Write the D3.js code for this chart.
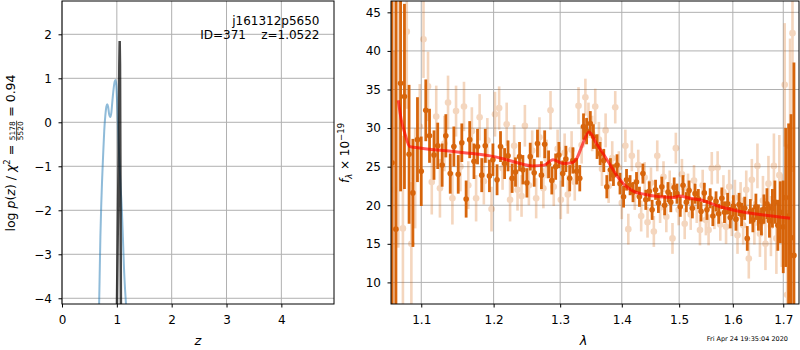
<!DOCTYPE html>
<html>
<head>
<meta charset="utf-8">
<script src="https://cdn.jsdelivr.net/npm/d3@7"></script>
<style>
body { margin: 0; background: #fff; }
text { font-family: "DejaVu Sans", sans-serif; }
</style>
</head>
<body>
<div id="chart"></div>
<script>
// left panel: redshift probability
var zTicks = [0, 1, 2, 3, 4]
var logpTicks = [-4, -3, -2, -1, 0, 1, 2]
var pzZ = [0.670, 0.685, 0.700, 0.715, 0.730, 0.750, 0.770, 0.790, 0.810, 0.825, 0.840, 0.860, 0.880, 0.900, 0.920, 0.940, 0.960, 0.975, 0.990, 1.010, 1.030, 1.050, 1.070, 1.090, 1.110, 1.130, 1.150, 1.175]
var pzLog = [-4.6, -3.6, -2.6, -1.9, -1.35, -0.75, -0.2, 0.15, 0.36, 0.41, 0.36, 0.18, 0.12, 0.22, 0.5, 0.75, 0.92, 0.96, 0.85, 0.3, -0.4, -1.0, -1.5, -1.95, -2.6, -3.3, -3.8, -4.3]
var spikeZ = [1.000, 1.030, 1.045, 1.052, 1.058, 1.065, 1.075]
var spikeLog = [-4.4, -1.0, 1.3, 1.85, 1.3, -1.0, -4.4]

// right panel: spectrum
var lamTicks = [1.1, 1.2, 1.3, 1.4, 1.5, 1.6, 1.7]
var fluxTicks = [10, 15, 20, 25, 30, 35, 40, 45]

var darkWave = [1.062,1.067,1.073,1.078,1.084,1.089,1.095,1.100,1.106,1.111,
  1.117,1.122,1.128,1.133,1.139,1.144,1.150,1.155,1.161,1.166,
  1.172,1.177,1.183,1.188,1.194,1.199,1.205,1.210,1.216,1.221,
  1.227,1.232,1.238,1.243,1.249,1.254,1.260,1.265,1.271,1.276,
  1.282,1.287,1.293,1.298,1.304,1.309,1.315,1.320,1.326,1.331,
  1.337,1.342,1.348,1.353,1.359,1.364,1.370,1.375,1.381,1.386,
  1.392,1.397,1.403,1.408,1.414,1.419,1.425,1.430,1.436,1.441,
  1.447,1.452,1.458,1.463,1.469,1.474,1.480,1.485,1.491,1.496,
  1.502,1.507,1.513,1.518,1.524,1.529,1.535,1.540,1.546,1.551,
  1.557,1.562,1.568,1.573,1.579,1.584,1.590,1.595,1.601,1.606,
  1.612,1.617,1.623,1.628,1.634,1.639,1.645,1.650,1.656,1.661,
  1.667,1.672,1.678,1.683,1.689,1.694,1.700,1.705,1.711,1.716,
  1.722]
var darkFlux = [25.5,16.9,35.8,34.1,26.6,21.6,28.5,24.4,32.3,29.0,
  26.5,27.7,25.2,29.0,24.1,27.6,24.0,28.1,20.8,28.5,
  25.7,27.6,23.9,27.7,23.8,25.9,23.3,27.6,25.4,26.4,
  23.5,24.3,26.3,24.6,22.9,26.3,24.2,28.0,23.9,27.9,
  25.3,23.2,25.0,26.5,24.1,26.0,23.5,25.8,24.4,23.5,
  30.2,29.6,30.6,28.9,27.6,26.7,25.8,22.4,24.6,23.9,
  25.2,22.8,21.1,23.3,22.6,21.7,23.0,21.1,24.1,20.7,
  21.8,19.4,22.0,20.3,22.4,20.0,21.7,20.4,22.3,21.5,
  19.8,22.6,20.4,21.9,19.6,21.5,20.8,19.2,21.6,19.4,
  20.9,18.6,20.5,18.9,20.9,19.1,20.2,18.4,19.9,18.2,
  20.1,18.8,19.6,15.7,19.2,18.1,19.8,18.4,17.9,19.5,
  20.2,18.0,19.6,20.4,17.4,19.1,17.2,21.0,18.6,15.8,
  13.5]
var darkErr = [22,30,14,12,9,7,5.5,4.5,4,3.5,
  3.2,3,2.8,2.8,2.6,2.6,2.5,2.5,2.4,2.4,
  2.3,2.3,2.2,2.2,2.1,2.1,2.0,2.0,2.0,2.0,
  1.9,1.9,1.9,1.9,1.9,1.8,1.8,1.8,1.8,1.8,
  1.8,1.8,1.7,1.7,1.7,1.7,1.7,1.7,1.7,1.7,
  1.7,1.7,1.6,1.6,1.6,1.5,1.5,1.5,1.5,1.4,
  1.4,1.4,1.4,1.4,1.3,1.3,1.3,1.3,1.3,1.3,
  1.3,1.3,1.3,1.3,1.3,1.3,1.3,1.3,1.3,1.3,
  1.3,1.3,1.3,1.3,1.3,1.3,1.3,1.3,1.3,1.3,
  1.3,1.3,1.3,1.3,1.4,1.4,1.4,1.4,1.4,1.5,
  1.5,1.5,1.5,1.6,1.6,1.6,1.7,1.7,1.8,1.9,
  2.0,2.2,2.5,2.8,3.3,4.0,6.0,9,12,16,
  25]

var lightWave = [1.065,1.070,1.076,1.081,1.087,1.092,1.098,1.103,1.109,1.114,
  1.120,1.125,1.131,1.136,1.142,1.147,1.153,1.158,1.164,1.169,
  1.175,1.180,1.186,1.191,1.197,1.202,1.208,1.213,1.219,1.224,
  1.230,1.235,1.241,1.246,1.252,1.257,1.263,1.268,1.274,1.279,
  1.285,1.290,1.296,1.301,1.307,1.312,1.318,1.323,1.329,1.334,
  1.340,1.345,1.351,1.356,1.362,1.367,1.373,1.378,1.384,1.389,
  1.395,1.400,1.406,1.411,1.417,1.422,1.428,1.433,1.439,1.444,
  1.450,1.455,1.461,1.466,1.472,1.477,1.483,1.488,1.494,1.499,
  1.505,1.510,1.516,1.521,1.527,1.532,1.538,1.543,1.549,1.554,
  1.560,1.565,1.571,1.576,1.582,1.587,1.593,1.598,1.604,1.609,
  1.615,1.620,1.626,1.631,1.637,1.642,1.648,1.653,1.659,1.664,
  1.670,1.675,1.681,1.686,1.692,1.697,1.703,1.708,1.714,1.719]
var lightFlux = [22.0,30.5,17.0,42.5,15.0,23.5,30.2,41.5,35.4,23.0,
  31.5,22.2,28.0,33.3,20.9,32.2,25.0,32.8,22.6,29.6,
  20.9,31.4,23.1,28.4,19.5,31.8,32.6,24.8,30.5,20.7,
  27.7,22.0,21.2,30.3,22.6,27.1,20.9,28.8,22.2,26.0,
  32.3,22.4,27.3,20.7,26.8,21.4,27.2,23.0,32.9,27.8,
  34.0,31.0,29.3,32.8,28.5,24.7,29.7,22.5,26.1,32.7,
  24.9,20.3,27.7,16.9,26.4,21.4,25.2,18.6,23.6,17.8,
  22.9,16.6,26.4,19.7,23.7,18.5,22.5,15.7,27.4,19.4,
  24.0,17.6,22.1,18.8,23.2,19.7,16.8,22.6,18.1,16.8,
  24.8,19.0,24.9,17.5,21.7,17.2,22.4,18.3,21.0,16.1,
  20.6,17.4,22.0,13.1,23.3,17.7,25.1,16.3,20.6,15.0,
  22.8,17.3,25.1,15.7,23.9,18.0,35.6,8.4,27.6,42.3]
var lightErr = [18,16,12,10,8,6.5,5.5,5,4.5,4.2,
  4,3.8,3.6,3.5,3.4,3.3,3.2,3.2,3.1,3.1,
  3,3,3,2.9,2.9,2.9,2.8,2.8,2.8,2.8,
  2.7,2.7,2.7,2.7,2.6,2.6,2.6,2.6,2.6,2.5,
  2.5,2.5,2.5,2.5,2.5,2.5,2.4,2.4,2.4,2.4,
  2.4,2.3,2.3,2.3,2.3,2.2,2.2,2.2,2.2,2.1,
  2.1,2.1,2.1,2.0,2.0,2.0,2.0,2.0,2.0,2.0,
  2.0,2.0,2.0,2.0,2.0,2.0,2.0,2.0,2.0,2.0,
  2.0,2.0,2.0,2.0,2.0,2.0,2.0,2.0,2.0,2.0,
  2.1,2.1,2.1,2.1,2.2,2.2,2.2,2.3,2.3,2.4,
  2.4,2.5,2.5,2.6,2.7,2.8,2.9,3.0,3.2,3.4,
  3.6,3.9,4.2,4.6,5.2,6,8,11,14,18]

var modelWave = [1.070,1.074,1.078,1.085,1.100,1.140,1.170,1.195,1.215,1.235,1.258,1.275,1.289,1.298,1.305,1.318,1.327,1.335,1.346,1.358,1.368,1.380,1.392,1.405,1.420,1.440,1.466,1.490,1.500,1.520,1.538,1.576,1.614,1.653,1.714]
var modelFlux = [33.6,31.0,29.5,27.6,27.4,27.0,26.7,26.4,26.0,25.5,25.1,25.2,25.9,25.6,25.4,25.5,26.2,27.8,29.5,28.0,26.8,25.3,23.8,22.6,21.8,21.4,21.1,21.0,21.2,20.9,20.7,19.8,19.2,18.8,18.3]

const width = 800, height = 350
const darkColor = "#d65e00"
const gridColor = "#b0b0b0"

const svg = d3.select("#chart").append("svg")
    .attr("width", width)
    .attr("height", height)

const pz = { left: 62, right: 334, top: 1, bottom: 304 }
const sp = { left: 391, right: 799, top: 1, bottom: 304 }

const x1 = d3.scaleLinear().domain([0, 4.96]).range([pz.left, pz.right])
const y1 = d3.scaleLinear().domain([-4.13, 2.757]).range([pz.bottom, pz.top])
const x2 = d3.scaleLog().domain([1.0607, 1.7325]).range([sp.left, sp.right])
const y2 = d3.scaleLinear().domain([7.2, 46.47]).range([sp.bottom, sp.top])

const defs = svg.append("defs")
function clip(id, p) {
    defs.append("clipPath").attr("id", id).append("rect")
        .attr("x", p.left).attr("y", p.top)
        .attr("width", p.right - p.left).attr("height", p.bottom - p.top)
}
clip("clip-pz", pz)
clip("clip-sp", sp)

function grid(p, x, y, xt, yt) {
    const g = svg.append("g").attr("stroke", gridColor).attr("stroke-width", 1)
    xt.forEach(t => g.append("line").attr("x1", x(t)).attr("x2", x(t)).attr("y1", p.top).attr("y2", p.bottom))
    yt.forEach(t => g.append("line").attr("x1", p.left).attr("x2", p.right).attr("y1", y(t)).attr("y2", y(t)))
}

function axes(p, x, y, xt, yt, xf, yf) {
    const gx = svg.append("g").attr("transform", `translate(0,${p.bottom})`)
        .call(d3.axisBottom(x).tickValues(xt).tickFormat(xf).tickSize(3.5).tickPadding(8))
    const gy = svg.append("g").attr("transform", `translate(${p.left},0)`)
        .call(d3.axisLeft(y).tickValues(yt).tickFormat(yf).tickSize(3.5).tickPadding(6.5))
    ;[gx, gy].forEach(g => {
        g.select(".domain").remove()
        g.selectAll("text").attr("font-size", 12).attr("font-family", "DejaVu Sans").attr("fill", "#000")
        g.selectAll("line").attr("stroke", "#000")
    })
    svg.append("rect")
        .attr("x", p.left).attr("y", p.top)
        .attr("width", p.right - p.left).attr("height", p.bottom - p.top)
        .attr("fill", "none").attr("stroke", "#000").attr("stroke-width", 1)
}

// ---- left panel
grid(pz, x1, y1, zTicks, logpTicks)

const plotPz = svg.append("g").attr("clip-path", "url(#clip-pz)")
const blue = pzZ.map((z, i) => [z, pzLog[i]])
const spike = spikeZ.map((z, i) => [z, spikeLog[i]])
const line1 = d3.line().x(d => x1(d[0])).y(d => y1(d[1])).curve(d3.curveMonotoneX)

plotPz.append("path").datum(blue)
    .attr("fill", "none").attr("stroke", "#1f77b4").attr("stroke-opacity", 0.5)
    .attr("stroke-width", 2).attr("d", line1)
plotPz.append("path").datum(spike)
    .attr("fill", "none").attr("stroke", "#000").attr("stroke-opacity", 0.72)
    .attr("stroke-width", 2.5).attr("d", d3.line().x(d => x1(d[0])).y(d => y1(d[1])))

axes(pz, x1, y1, zTicks, logpTicks, d3.format("d"), d3.format("d"))

svg.append("text").attr("x", 319.5).attr("y", 25).attr("text-anchor", "end")
    .attr("font-size", 12).text("j161312p5650")
svg.append("text").attr("x", 319.5).attr("y", 39).attr("text-anchor", "end")
    .attr("font-size", 12).style("white-space", "pre").text("ID=371    z=1.0522")

svg.append("text").attr("x", x1(2.48)).attr("y", 345).attr("text-anchor", "middle")
    .attr("font-size", 13).attr("font-style", "italic").text("z")

// rotated y label with a small fraction
const yl = svg.append("g").attr("transform", "translate(15,153) rotate(-90)")
const inner = yl.append("g")
const t1 = inner.append("text").attr("font-size", 12.5).style("white-space", "pre")
t1.append("tspan").text("log ")
t1.append("tspan").attr("font-style", "italic").text("p")
t1.append("tspan").text("(")
t1.append("tspan").attr("font-style", "italic").text("z")
t1.append("tspan").text(") / ")
t1.append("tspan").attr("font-style", "italic").text("χ")
t1.append("tspan").attr("font-size", 8.5).attr("dy", -5).text("2")
t1.append("tspan").attr("dy", 5).text(" = ")
const w1 = t1.node().getComputedTextLength()
const num = inner.append("text").attr("font-size", 7.5).attr("text-anchor", "middle").text("5178")
const den = inner.append("text").attr("font-size", 7.5).attr("text-anchor", "middle").text("5520")
const fw = Math.max(num.node().getComputedTextLength(), den.node().getComputedTextLength()) + 1
num.attr("x", w1 + fw / 2).attr("y", 0)
den.attr("x", w1 + fw / 2).attr("y", 7.5)
inner.append("line").attr("x1", w1).attr("x2", w1 + fw).attr("y1", 1.6).attr("y2", 1.6)
    .attr("stroke", "#000").attr("stroke-width", 0.7)
const t3 = inner.append("text").attr("font-size", 12.5).style("white-space", "pre")
    .attr("x", w1 + fw).text(" = 0.94")
const total = w1 + fw + t3.node().getComputedTextLength()
inner.attr("transform", `translate(${-total / 2},0)`)

// ---- right panel
grid(sp, x2, y2, lamTicks, fluxTicks)

const plotSp = svg.append("g").attr("clip-path", "url(#clip-sp)")
const light = lightWave.map((w, i) => ({ w: w, f: lightFlux[i], e: lightErr[i] }))
const dark = darkWave.map((w, i) => ({ w: w, f: darkFlux[i], e: darkErr[i] }))

const gl = plotSp.append("g").attr("opacity", 0.25)
gl.selectAll("line").data(light).enter().append("line")
    .attr("x1", d => x2(d.w)).attr("x2", d => x2(d.w))
    .attr("y1", d => y2(d.f - d.e)).attr("y2", d => y2(d.f + d.e))
    .attr("stroke", darkColor).attr("stroke-width", 2.6)
gl.selectAll("circle").data(light).enter().append("circle")
    .attr("cx", d => x2(d.w)).attr("cy", d => y2(d.f)).attr("r", 3.3)
    .attr("fill", darkColor)

const gd = plotSp.append("g").attr("opacity", 0.95)
gd.selectAll("line").data(dark).enter().append("line")
    .attr("x1", d => x2(d.w)).attr("x2", d => x2(d.w))
    .attr("y1", d => y2(d.f - d.e)).attr("y2", d => y2(d.f + d.e))
    .attr("stroke", darkColor).attr("stroke-width", 2.8)
gd.selectAll("circle").data(dark).enter().append("circle")
    .attr("cx", d => x2(d.w)).attr("cy", d => y2(d.f)).attr("r", 2.8)
    .attr("fill", darkColor)

const model = modelWave.map((w, i) => [w, modelFlux[i]])
plotSp.append("path").datum(model)
    .attr("fill", "none").attr("stroke", "red").attr("stroke-opacity", 0.65)
    .attr("stroke-width", 3).attr("stroke-linejoin", "round")
    .attr("d", d3.line().x(d => x2(d[0])).y(d => y2(d[1])).curve(d3.curveMonotoneX))

axes(sp, x2, y2, lamTicks, fluxTicks, d3.format(".1f"), d3.format("d"))

svg.append("text").attr("x", x2(1.337)).attr("y", 345).attr("text-anchor", "middle")
    .attr("font-size", 13).attr("font-style", "italic").text("λ")

const fl = svg.append("text").attr("font-size", 12).attr("text-anchor", "middle")
    .attr("transform", "translate(349,153) rotate(-90)").style("white-space", "pre")
fl.append("tspan").attr("font-style", "italic").text("f")
fl.append("tspan").attr("font-style", "italic").attr("font-size", 8.5).attr("dy", 3).text("λ")
fl.append("tspan").attr("dy", -3).text(" × 10")
fl.append("tspan").attr("font-size", 8.5).attr("dy", -5).text("−19")

svg.append("text").attr("x", 788).attr("y", 341).attr("text-anchor", "end")
    .attr("font-size", 6.5).text("Fri Apr 24 19:35:04 2020")
</script>
</body>
</html>
